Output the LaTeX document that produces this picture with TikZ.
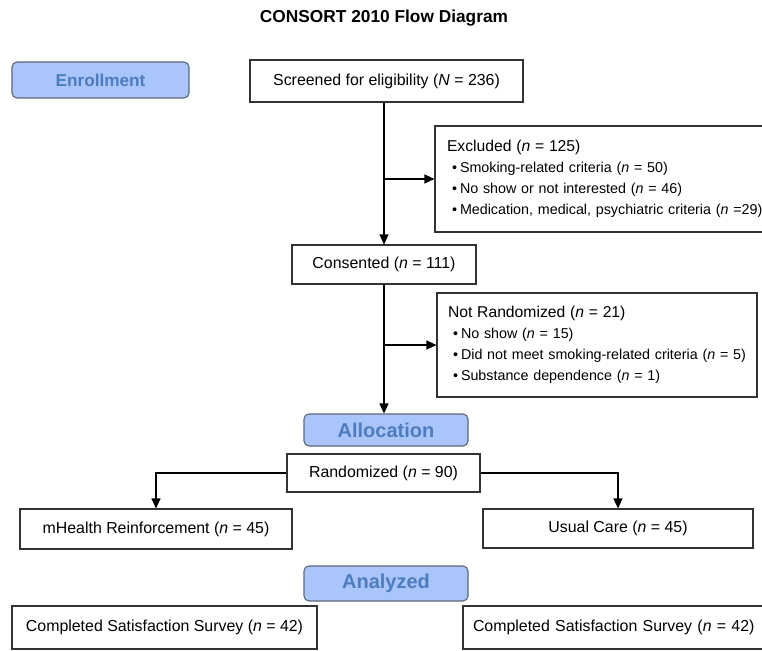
\documentclass[tikz,border=0pt]{standalone}
\usepackage{fontspec}
\setmainfont{Liberation Sans}
\usetikzlibrary{arrows.meta}
\definecolor{hdfill}{HTML}{A9C5FA}
\definecolor{hddraw}{HTML}{5A6878}
\definecolor{hdtext}{HTML}{4E7DBF}
\definecolor{ln}{HTML}{333333}
\newcommand{\bul}{\hspace*{5pt}\textbullet\hspace{3pt}}
\begin{document}
\begin{tikzpicture}[x=1pt,y=-1pt,
  box/.style={draw=ln, line width=1.1pt, fill=white, inner sep=0pt,
    font=\fontsize{15.9}{19}\selectfont},
  listbox/.style={box, align=left, inner xsep=12pt, font=\fontsize{14.3}{21}\selectfont},
  hd/.style={draw=hddraw, fill=hdfill, rounded corners=5pt, line width=1.1pt,
    text=hdtext, inner sep=0pt},
  arr/.style={draw=black, line width=1.2pt, -{Triangle[length=10pt,width=9pt]}},
  lnk/.style={draw=black, line width=1.2pt}]
\path[use as bounding box] (0,0) rectangle (762,650);
\clip (0,0) rectangle (762,650);

\node[font=\bfseries\fontsize{17.3}{20}\selectfont] (title) at (384,18) {CONSORT 2010 Flow Diagram};

\node[hd, minimum width=177, minimum height=36, font=\bfseries\fontsize{17.2}{20}\selectfont] (enr) at (100.5,80) {Enrollment};
\node[box, minimum width=273, minimum height=42] (scr) at (386.5,81) {Screened for eligibility (\textit{N} = 236)};

\node[listbox, text width=316, minimum height=106] (excl) at (605,179)
  {{\fontsize{15.7}{21}\selectfont Excluded (\textit{n} = 125)}\\
   \bul Smoking-related criteria (\textit{n} = 50)\\
   \bul No show or not interested (\textit{n} = 46)\\
   \bul Medication, medical, psychiatric criteria (\textit{n} =29)};

\node[box, minimum width=184, minimum height=39] (cons) at (384,264.5) {Consented (\textit{n} = 111)};

\node[listbox, inner xsep=11pt, text width=298, minimum height=104] (notr) at (597,345)
  {{\fontsize{15.7}{21}\selectfont Not Randomized (\textit{n} = 21)}\\
   \bul No show (\textit{n} = 15)\\
   \bul Did not meet smoking-related criteria (\textit{n} = 5)\\
   \bul Substance dependence (\textit{n} = 1)};

\node[hd, minimum width=164, minimum height=32, font=\bfseries\fontsize{20}{22}\selectfont] (alloc) at (386,430) {Allocation};
\node[box, minimum width=193, minimum height=38] (rand) at (383.5,473) {Randomized (\textit{n} = 90)};

\node[box, minimum width=272, minimum height=40] (mh) at (156,529) {mHealth Reinforcement (\textit{n} = 45)};
\node[box, minimum width=270, minimum height=39] (uc) at (618,528.5) {Usual Care (\textit{n} = 45)};

\node[hd, minimum width=164, minimum height=35, font=\bfseries\fontsize{20}{22}\selectfont] (anal) at (386,583.5) {Analyzed};

\node[box, minimum width=305, minimum height=43] (cl) at (164.5,627.5) {Completed Satisfaction Survey (\textit{n} = 42)};
\node[box, minimum width=312, minimum height=43, text width=298, align=left, inner xsep=7pt] (cr) at (619,627.5) {\hspace*{3pt}Completed Satisfaction Survey (\textit{n} = 42)};

% connectors
\draw[arr] (cons.north |- scr.south) -- (cons.north);
\draw[arr] (cons.north |- excl.west) -- (excl.west);
\draw[arr] (cons.south) -- (cons.south |- alloc.north);
\draw[arr] (cons.south |- notr.west) -- (notr.west);
\draw[arr] (rand.west) -| (mh.north);
\draw[arr] (rand.east) -| (uc.north);
\end{tikzpicture}
\end{document}
